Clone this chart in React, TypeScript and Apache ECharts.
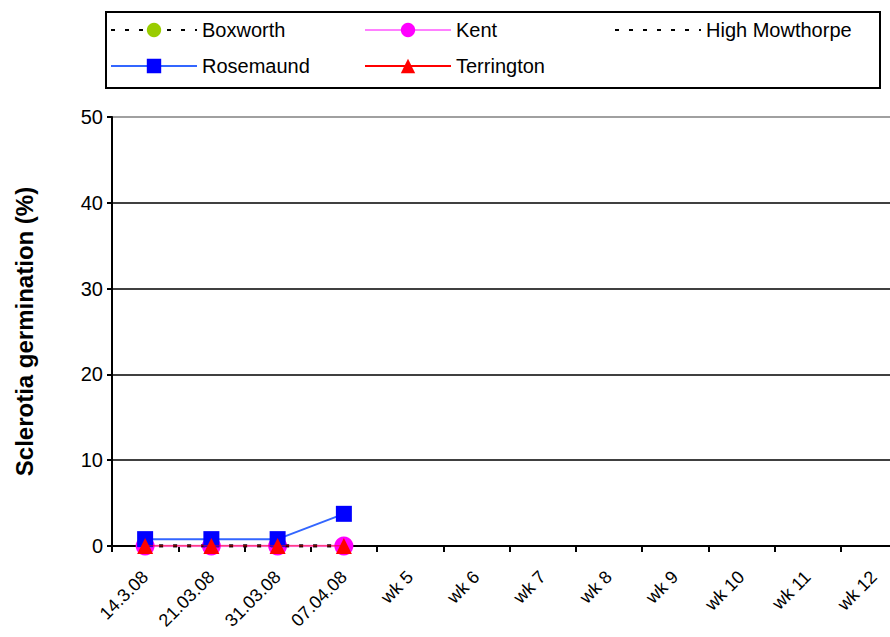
import React, { useEffect, useRef } from "react";
import * as echarts from "echarts";

const categories = ["14.3.08", "21.03.08", "31.03.08", "07.04.08", "wk 5", "wk 6", "wk 7", "wk 8", "wk 9", "wk 10", "wk 11", "wk 12"];
const boxworth = [0, 0, 0, 0];
const kent = [0, 0, 0, 0];
const highMowthorpe = [0, 0, 0, 0];
const rosemaund = [0.8, 0.8, 0.8, 3.75];
const terrington = [0, 0, 0, 0];
const yTicks = { min: 0, max: 50, interval: 10 };

const FONT = "Liberation Sans, Arial, sans-serif";

export default function App() {
  const ref = useRef<HTMLDivElement>(null);
  useEffect(() => {
    document.body.style.margin = "0";
    const chart = echarts.init(ref.current!, null, { renderer: "svg" });
    const legendText = { fontFamily: FONT, fontSize: 20, color: "#000" };
    const mkLegend = (name: string, left: number, top: number, hideSymbol = false) => ({
      data: [hideSymbol ? { name, itemStyle: { opacity: 0 } } : name],
      left,
      top,
      itemWidth: 86,
      itemHeight: 18,
      itemGap: 0,
      textStyle: legendText,
      padding: 0,
      selectedMode: false,
    });
    chart.setOption({
      animation: false,
      backgroundColor: "#fff",
      textStyle: { fontFamily: FONT },
      graphic: [
        {
          type: "rect",
          shape: { x: 106, y: 12, width: 774, height: 76 },
          style: { fill: "none", stroke: "#000", lineWidth: 2 },
          z: -1,
        },
      ],
      legend: [
        mkLegend("Boxworth", 110, 20),
        mkLegend("Kent", 364, 20),
        mkLegend("High Mowthorpe", 614, 20, true),
        mkLegend("Rosemaund", 110, 56),
        mkLegend("Terrington", 364, 56),
      ],
      grid: { left: 112, top: 117, width: 795, height: 429, containLabel: false, outerBoundsMode: "none" },
      xAxis: {
        type: "category",
        data: categories,
        boundaryGap: true,
        axisLine: { lineStyle: { color: "#000", width: 2 } },
        axisTick: { show: true, interval: 0, length: 6, lineStyle: { color: "#000", width: 2 } },
        axisLabel: { interval: 0, rotate: 45, fontFamily: FONT, fontSize: 18, color: "#000", margin: 28 },
      },
      yAxis: {
        type: "value",
        min: yTicks.min,
        max: yTicks.max,
        interval: yTicks.interval,
        name: "Sclerotia germination (%)",
        nameLocation: "middle",
        nameGap: 76,
        nameTextStyle: { fontFamily: FONT, fontSize: 24, fontWeight: "bold", color: "#000" },
        axisLine: { show: true, lineStyle: { color: "#000", width: 2 } },
        axisTick: { show: true, length: 5, lineStyle: { color: "#000", width: 2 } },
        axisLabel: { fontFamily: FONT, fontSize: 20, color: "#000", margin: 9 },
        splitLine: {
          show: true,
          lineStyle: { color: ["#000", "#000", "#000", "#000", "#000", "#808080"], width: 1.5 },
        },
      },
      series: [
        {
          name: "Boxworth",
          type: "line",
          data: boxworth,
          symbol: "circle",
          symbolSize: 16,
          itemStyle: { color: "#99cc00" },
          lineStyle: { color: "#000", width: 3, type: [4, 10] },
          z: 2,
        },
        {
          name: "Kent",
          type: "line",
          data: kent,
          symbol: "circle",
          symbolSize: 19,
          itemStyle: { color: "#ff00ff" },
          lineStyle: { color: "#ff80ff", width: 2.5 },
          z: 3,
        },
        {
          name: "High Mowthorpe",
          type: "line",
          data: highMowthorpe,
          symbol: "none",
          itemStyle: { color: "#000" },
          lineStyle: { color: "#000", width: 3, type: [4, 10] },
          z: 4,
        },
        {
          name: "Rosemaund",
          type: "line",
          data: rosemaund,
          symbol: "rect",
          symbolSize: 16,
          itemStyle: { color: "#0000ff" },
          lineStyle: { color: "#3366ff", width: 2 },
          z: 5,
        },
        {
          name: "Terrington",
          type: "line",
          data: terrington,
          symbol: "triangle",
          symbolSize: 16,
          itemStyle: { color: "#ff0000" },
          lineStyle: { color: "#ff0000", width: 1 },
          z: 6,
        },
      ],
    });
    return () => chart.dispose();
  }, []);
  return <div ref={ref} style={{ width: 890, height: 637 }} />;
}
